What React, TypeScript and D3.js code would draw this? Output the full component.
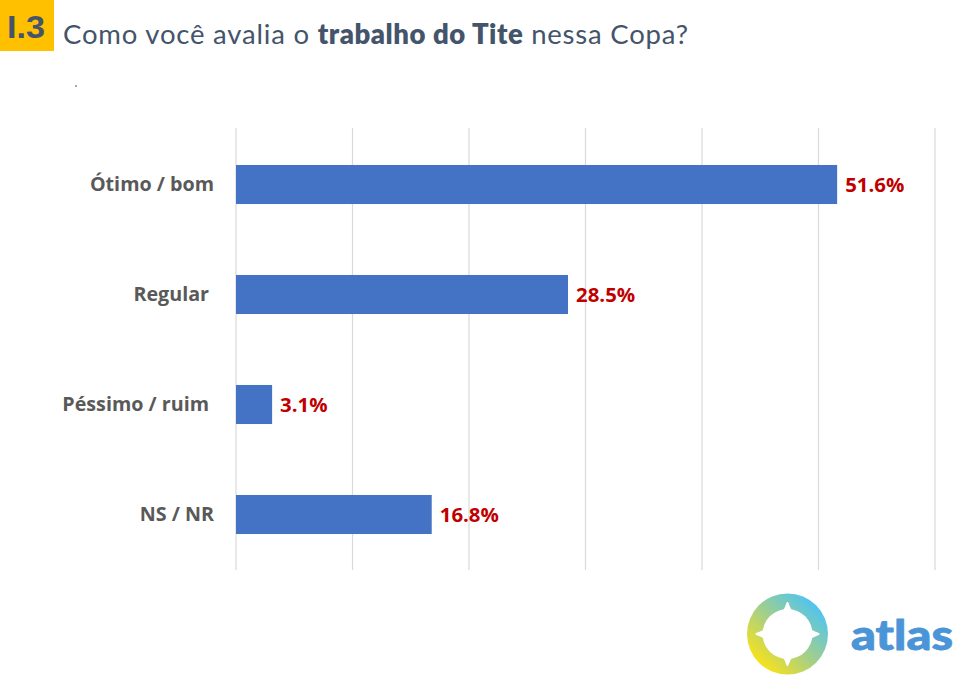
import React from "react";
import * as d3 from "d3";

const categories = ["Ótimo / bom", "Regular", "Péssimo / ruim", "NS / NR"];
const values = [51.6, 28.5, 3.1, 16.8];
const valueLabels = ["51.6%", "28.5%", "3.1%", "16.8%"];
const gridTicks = [0, 10, 20, 30, 40, 50, 60];
const labelOffsets = [0, 5, 5, 0];

const W = 980, H = 699;

export default function App() {
  const x = d3.scaleLinear().domain([0, 60]).range([236, 935]);
  const y = d3.scaleBand<string>().domain(categories).range([129.5, 569.5]).paddingInner(0.645).paddingOuter(0.3225);
  const logoX = 787.5, logoY = 634;
  const star = `M${logoX} ${logoY - 31} C${logoX + 3} ${logoY - 21} ${logoX + 14} ${logoY - 6} ${logoX + 31} ${logoY} C${logoX + 14} ${logoY + 6} ${logoX + 3} ${logoY + 21} ${logoX} ${logoY + 31} C${logoX - 3} ${logoY + 21} ${logoX - 14} ${logoY + 6} ${logoX - 31} ${logoY} C${logoX - 14} ${logoY - 6} ${logoX - 3} ${logoY - 21} ${logoX} ${logoY - 31} Z`;
  return (
    <svg width={W} height={H} viewBox={`0 0 ${W} ${H}`} style={{ position: "absolute", left: 0, top: 0, background: "#fff" }}>
      <defs>
        <linearGradient id="ring" x1="0.12" y1="0.9" x2="0.85" y2="0.15">
          <stop offset="0" stopColor="#ffe411" />
          <stop offset="0.5" stopColor="#a5cf88" />
          <stop offset="1" stopColor="#52c4ee" />
        </linearGradient>
      </defs>
      <rect x={0} y={0} width={54} height={51} fill="#ffc000" />
      <text x={7} y={38} fontFamily="Liberation Sans" fontWeight={700} fontSize={32} fill="#44546a" textLength={38} lengthAdjust="spacingAndGlyphs">I.3</text>
      <text x={63} y={44} fontFamily="Lato" fontSize={27.5} fill="#44546a" letterSpacing={0.8}>
        Como você avalia o <tspan fontWeight={800} letterSpacing={0.55}>trabalho do Tite</tspan> nessa Copa?
      </text>
      <circle cx={76} cy={86} r={0.9} fill="#5b86b8" />
      {gridTicks.map(t => (
        <line key={t} x1={x(t)} x2={x(t)} y1={128} y2={570} stroke="#d9d9d9" strokeWidth={1.2} />
      ))}
      {categories.map((c, i) => (
        <g key={c}>
          <rect x={x(0)} y={y(c)} width={x(values[i]) - x(0)} height={y.bandwidth()} fill="#4472c4" />
          <text x={214 - labelOffsets[i]} y={y(c)! + y.bandwidth() / 2 + 6.5} textAnchor="end" fontFamily="Open Sans" fontWeight={700} fontSize={19.7} fill="#595959">{c}</text>
          <text x={x(values[i]) + 8} y={y(c)! + y.bandwidth() / 2 + 7.5} fontFamily="Open Sans" fontWeight={700} fontSize={20.4} fill="#c00000">{valueLabels[i]}</text>
        </g>
      ))}
      <circle cx={logoX} cy={logoY} r={40.5} fill="url(#ring)" />
      <path d={star} fill="#fff" stroke="#fff" strokeWidth={2} strokeLinejoin="round" />
      <circle cx={logoX} cy={logoY} r={25} fill="#fff" />
      <text x={851} y={650} fontFamily="Lato" fontWeight={900} fontSize={42} fill="#4a94d8" stroke="#4a94d8" strokeWidth={0.8} strokeLinejoin="round" textLength={102} lengthAdjust="spacingAndGlyphs">atlas</text>
    </svg>
  );
}
